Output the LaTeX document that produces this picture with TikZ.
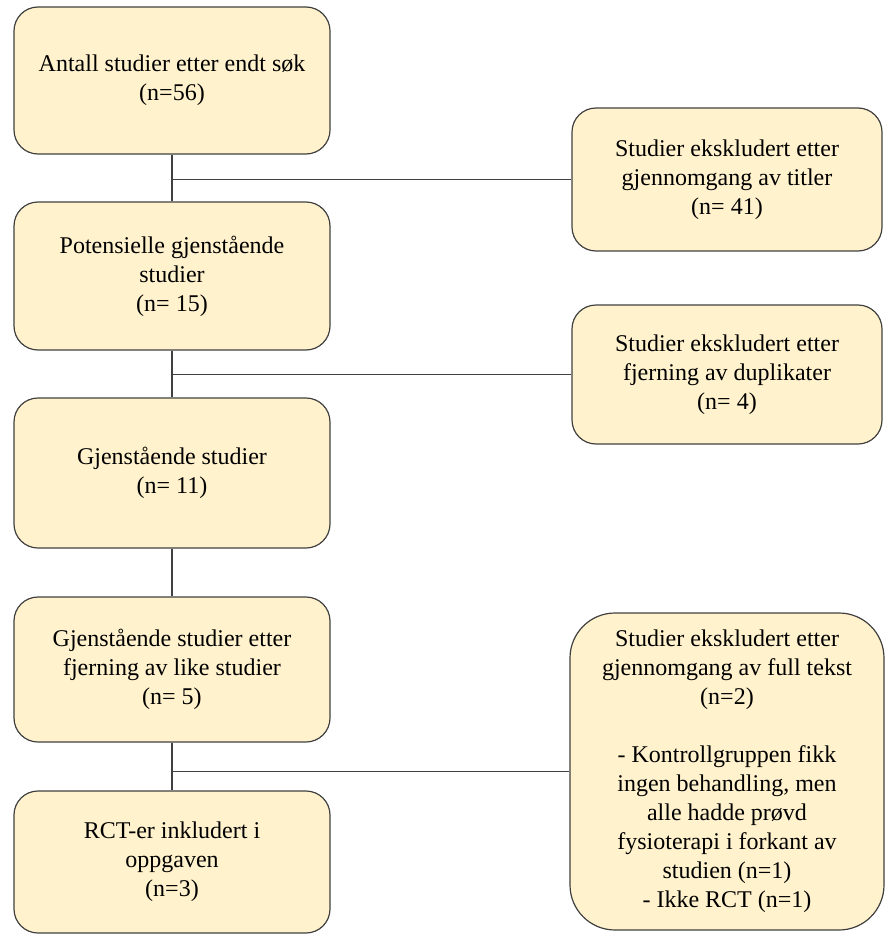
\documentclass[tikz,border=0pt]{standalone}
\usepackage{fontspec}
\setmainfont{Liberation Serif}
\definecolor{boxfill}{HTML}{FFF2CC}
\definecolor{boxdraw}{HTML}{404040}
\begin{document}
\begin{tikzpicture}[x=1pt,y=-1pt,
  flowbox/.style={draw=boxdraw,fill=boxfill,line width=1.2pt,rounded corners=24pt,
    align=center,font=\fontsize{24}{29}\selectfont,inner sep=0pt},
  leftbox/.style={flowbox,minimum width=316pt},
  rightbox/.style={flowbox,minimum width=310pt},
  link/.style={draw=boxdraw,line width=1.2pt}]
\useasboundingbox (0,0) rectangle (885,934);
\node[leftbox,minimum height=147pt] (b1) at (172,80.5) {Antall studier etter endt søk\\(n=56)};
\node[leftbox,minimum height=148pt] (b2) at (172,276) {Potensielle gjenstående\\studier\\(n= 15)};
\node[leftbox,minimum height=150pt] (b3) at (172,473) {Gjenstående studier\\(n= 11)};
\node[leftbox,minimum height=145pt] (b4) at (172,669.5) {Gjenstående studier etter\\fjerning av like studier\\(n= 5)};
\node[leftbox,minimum height=142pt] (b5) at (172,862) {RCT-er inkludert i\\oppgaven\\(n=3)};
\node[rightbox,minimum height=143pt] (ra) at (727,179.5) {Studier ekskludert etter\\gjennomgang av titler\\(n= 41)};
\node[rightbox,minimum height=139pt] (rb) at (727,374.5) {Studier ekskludert etter\\fjerning av duplikater\\(n= 4)};
\node[flowbox,minimum width=314pt,minimum height=317pt,rounded corners=45pt] (rc) at (727,771.5) {Studier ekskludert etter\\gjennomgang av full tekst\\(n=2)\\[29pt]- Kontrollgruppen fikk\\ingen behandling, men\\alle hadde prøvd\\fysioterapi i forkant av\\studien (n=1)\\- Ikke RCT (n=1)};
\draw[link] (b1.south) -- (b2.north);
\draw[link] (b2.south) -- (b3.north);
\draw[link] (b3.south) -- (b4.north);
\draw[link] (b4.south) -- (b5.north);
\draw[link] (ra.west) -- (ra.west -| b1.south);
\draw[link] (rb.west) -- (rb.west -| b2.south);
\draw[link] (rc.west) -- (rc.west -| b4.south);
\end{tikzpicture}
\end{document}
